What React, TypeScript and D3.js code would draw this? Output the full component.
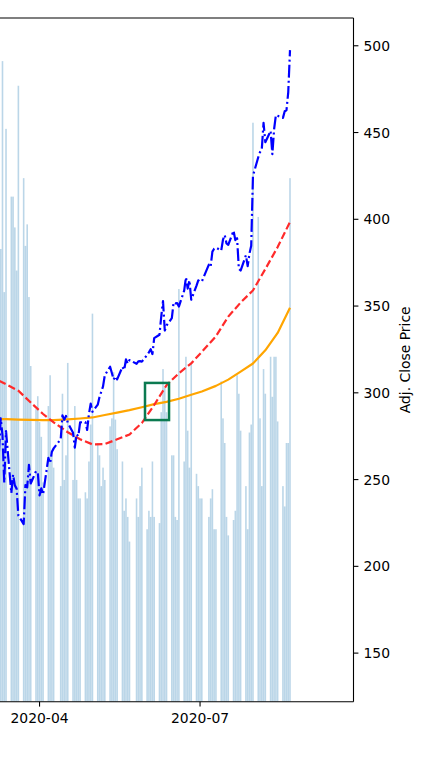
import React from 'react';
import * as d3 from 'd3';

// trading days shown (AAPL, spring/summer 2020)
const dates = [
  '2020-03-09', '2020-03-10', '2020-03-11', '2020-03-12', '2020-03-13',
  '2020-03-16', '2020-03-17', '2020-03-18', '2020-03-19', '2020-03-20',
  '2020-03-23', '2020-03-24', '2020-03-25', '2020-03-26', '2020-03-27',
  '2020-03-30', '2020-03-31', '2020-04-01', '2020-04-02', '2020-04-03',
  '2020-04-06', '2020-04-07', '2020-04-08', '2020-04-09',
  '2020-04-13', '2020-04-14', '2020-04-15', '2020-04-16', '2020-04-17',
  '2020-04-20', '2020-04-21', '2020-04-22', '2020-04-23', '2020-04-24',
  '2020-04-27', '2020-04-28', '2020-04-29', '2020-04-30', '2020-05-01',
  '2020-05-04', '2020-05-05', '2020-05-06', '2020-05-07', '2020-05-08',
  '2020-05-11', '2020-05-12', '2020-05-13', '2020-05-14', '2020-05-15',
  '2020-05-18', '2020-05-19', '2020-05-20', '2020-05-21', '2020-05-22',
  '2020-05-26', '2020-05-27', '2020-05-28', '2020-05-29',
  '2020-06-01', '2020-06-02', '2020-06-03', '2020-06-04', '2020-06-05',
  '2020-06-08', '2020-06-09', '2020-06-10', '2020-06-11', '2020-06-12',
  '2020-06-15', '2020-06-16', '2020-06-17', '2020-06-18', '2020-06-19',
  '2020-06-22', '2020-06-23', '2020-06-24', '2020-06-25', '2020-06-26',
  '2020-06-29', '2020-06-30', '2020-07-01', '2020-07-02',
  '2020-07-06', '2020-07-07', '2020-07-08', '2020-07-09', '2020-07-10',
  '2020-07-13', '2020-07-14', '2020-07-15', '2020-07-16', '2020-07-17',
  '2020-07-20', '2020-07-21', '2020-07-22', '2020-07-23', '2020-07-24',
  '2020-07-27', '2020-07-28', '2020-07-29', '2020-07-30', '2020-07-31',
  '2020-08-03', '2020-08-04', '2020-08-05', '2020-08-06', '2020-08-07',
  '2020-08-10', '2020-08-11', '2020-08-12', '2020-08-13', '2020-08-14',
  '2020-08-17', '2020-08-18', '2020-08-19', '2020-08-20', '2020-08-21'
];

const adjClose = [
  266.17, 285.34, 275.43, 248.23, 277.97,
  242.21, 252.86, 246.67, 244.78, 229.24,
  224.37, 246.88, 245.52, 258.44, 247.74,
  254.81, 254.29, 240.91, 244.93, 241.41,
  262.47, 259.43, 266.07, 267.99,
  273.25, 287.05, 284.43, 286.69, 282.8,
  276.93, 268.37, 276.1, 275.03, 282.97,
  283.17, 278.58, 287.73, 293.8, 289.07,
  293.16, 297.56, 300.63, 303.74, 310.13,
  315.01, 311.41, 307.65, 309.54, 307.71,
  314.96, 313.14, 319.23, 316.85, 318.89,
  316.73, 318.11, 318.25, 317.94,
  321.85, 323.34, 325.12, 322.32, 331.5,
  333.46, 343.99, 352.84, 335.9, 338.8,
  342.99, 352.08, 351.59, 351.73, 349.72,
  358.87, 366.53, 360.06, 364.84, 353.63,
  361.78, 364.8, 364.11, 364.11,
  373.85, 372.69, 381.37, 383.01, 383.68,
  381.91, 388.23, 390.9, 386.09, 385.31,
  393.43, 388.0, 389.09, 371.38, 370.46,
  379.24, 373.01, 380.16, 384.76, 425.04,
  435.75, 438.66, 440.25, 455.61, 444.45,
  450.91, 437.5, 452.04, 460.04, 459.63,
  458.43, 462.25, 462.83, 473.1, 497.48
];

// volume, millions of shares
const volume = [
  71, 73.5, 104, 66.5, 93,
  82, 82, 77, 70, 100,
  85, 74, 77.5, 65.7, 54.5,
  47.5, 49.6, 45.4, 43, 35.6,
  48, 53, 40, 38,
  35, 50, 36, 40, 55,
  36, 48, 36, 33, 33,
  34, 33, 39, 45, 63,
  42, 40, 35, 38, 36,
  44.7, 46, 53.5, 45.8, 41,
  39, 31, 33, 30, 26,
  33, 30, 35, 38,
  28, 31, 30, 39, 30,
  29, 47, 54, 51, 47,
  40, 40, 30, 29.5, 67,
  39, 56, 44, 38, 55,
  37, 35, 33, 33,
  30, 33, 34.5, 28, 28,
  52, 46, 42, 30, 27,
  29.5, 31, 53, 50, 44,
  35, 28, 43.7, 45, 94,
  78.7, 46, 35, 54, 50,
  56, 49.5, 56, 56, 45.5,
  35, 31.7, 42, 42, 85
];

// moving averages read weekly
const maDates = [
  '2020-03-09', '2020-03-13', '2020-03-20', '2020-03-27', '2020-04-03',
  '2020-04-09', '2020-04-17', '2020-04-24', '2020-05-01', '2020-05-08',
  '2020-05-15', '2020-05-22', '2020-05-29', '2020-06-05', '2020-06-12',
  '2020-06-19', '2020-06-26', '2020-07-02', '2020-07-10', '2020-07-17',
  '2020-07-24', '2020-07-31', '2020-08-07', '2020-08-14', '2020-08-21'
];
const ma50 = [
  307.0, 305.0, 301.2, 294.4, 287.8,
  283.0, 277.3, 273.2, 270.3, 270.5,
  273.2, 276.0, 282.6, 293.0, 304.4,
  311.3, 317.0, 323.6, 332.6, 343.9,
  352.0, 359.0, 371.3, 384.0, 398.5
];
const ma200 = [
  284.8, 284.8, 284.6, 284.4, 284.3,
  284.3, 284.7, 285.2, 285.8, 287.2,
  288.6, 290.0, 291.7, 293.5, 294.8,
  296.6, 298.9, 300.8, 304.0, 307.6,
  312.2, 316.9, 324.5, 334.5, 349.0
];

const priceTicks = [150, 200, 250, 300, 350, 400, 450, 500];
const monthTicks = ['2020-04-01', '2020-07-01'];
const crossFrom = '2020-05-30T19:00';
const crossTo = '2020-06-13T10:00';
const crossLow = 284.3;
const crossHigh = 305.7;

const W = 424, H = 772;
const left = 0, right = 353.5, top = 18, bottom = 701.7;
const font = 'DejaVu Sans, sans-serif';

export default function App() {
  const parse = (s: string) => new Date(s);
  const days = dates.map(d => new Date(d + 'T00:00'));
  const maDays = maDates.map(d => new Date(d + 'T00:00'));

  const x = d3.scaleTime()
    .domain([new Date('2020-03-09T14:00'), new Date('2020-09-26T00:00')])
    .range([left, right]);
  const y = d3.scaleLinear().domain([122, 516]).range([bottom, top]);
  const yVol = d3.scaleLinear().domain([0, 111]).range([bottom, top]);

  const halfBar = 0.45 * 24 * 3600 * 1000;

  const closeLine = d3.line<number>()
    .x((d, i) => x(days[i]))
    .y(d => y(d));
  const maLine = d3.line<number>()
    .x((d, i) => x(maDays[i]))
    .y(d => y(d));

  const bx0 = x(new Date(crossFrom + ':00'));
  const bx1 = x(new Date(crossTo + ':00'));

  return (
    <svg width={W} height={H} style={{ position: 'absolute', left: 0, top: 0, background: '#fff' }}>
      <defs>
        <clipPath id="plot">
          <rect x={left} y={top} width={right - left} height={bottom - top} />
        </clipPath>
      </defs>
      <g clipPath="url(#plot)">
        {volume.map((v, i) => {
          const x0 = x(new Date(days[i].getTime() - halfBar));
          const x1 = x(new Date(days[i].getTime() + halfBar));
          return (
            <rect key={i} x={x0} width={x1 - x0} y={yVol(v)} height={yVol(0) - yVol(v)}
              fill="#1f77b4" fillOpacity={0.3} />
          );
        })}
        <path d={maLine(ma200) || ''} fill="none" stroke="#ffa500" strokeWidth={2.2} strokeLinejoin="round" />
        <path d={maLine(ma50) || ''} fill="none" stroke="#ff2a2a" strokeWidth={2.2} strokeDasharray="7.4,3.2" />
        <path d={closeLine(adjClose) || ''} fill="none" stroke="#0000ff" strokeWidth={2.2}
          strokeDasharray="12.8,3.2,2,3.2" strokeLinejoin="round" />
        <rect x={bx0} y={y(crossHigh)} width={bx1 - bx0} height={y(crossLow) - y(crossHigh)}
          fill="none" stroke="#0b7a50" strokeWidth={2.5} />
      </g>

      {/* spines */}
      <line x1={left} x2={right} y1={top} y2={top} stroke="#000" strokeWidth={1.1} />
      <line x1={left} x2={right} y1={bottom} y2={bottom} stroke="#000" strokeWidth={1.1} />
      <line x1={right} x2={right} y1={top} y2={bottom} stroke="#000" strokeWidth={1.1} />

      {/* right price axis */}
      {priceTicks.map(t => (
        <g key={t} transform={`translate(${right},${y(t)})`}>
          <line x1={0} x2={4.9} stroke="#000" strokeWidth={1.1} />
          <text x={10} dy="0.36em" fontFamily={font} fontSize={13.9} fill="#000">{t}</text>
        </g>
      ))}
      <text transform={`translate(409.5,${(top + bottom) / 2}) rotate(-90)`} textAnchor="middle"
        fontFamily={font} fontSize={13.9} fill="#000">Adj. Close Price</text>

      {/* date axis */}
      {monthTicks.map(m => {
        const px = x(parse(m + 'T00:00'));
        return (
          <g key={m} transform={`translate(${px},${bottom})`}>
            <line y1={0} y2={4.9} stroke="#000" strokeWidth={1.1} />
            <text y={21} textAnchor="middle" fontFamily={font} fontSize={13.9} fill="#000">
              {d3.timeFormat('%Y-%m')(parse(m + 'T00:00'))}
            </text>
          </g>
        );
      })}
    </svg>
  );
}
